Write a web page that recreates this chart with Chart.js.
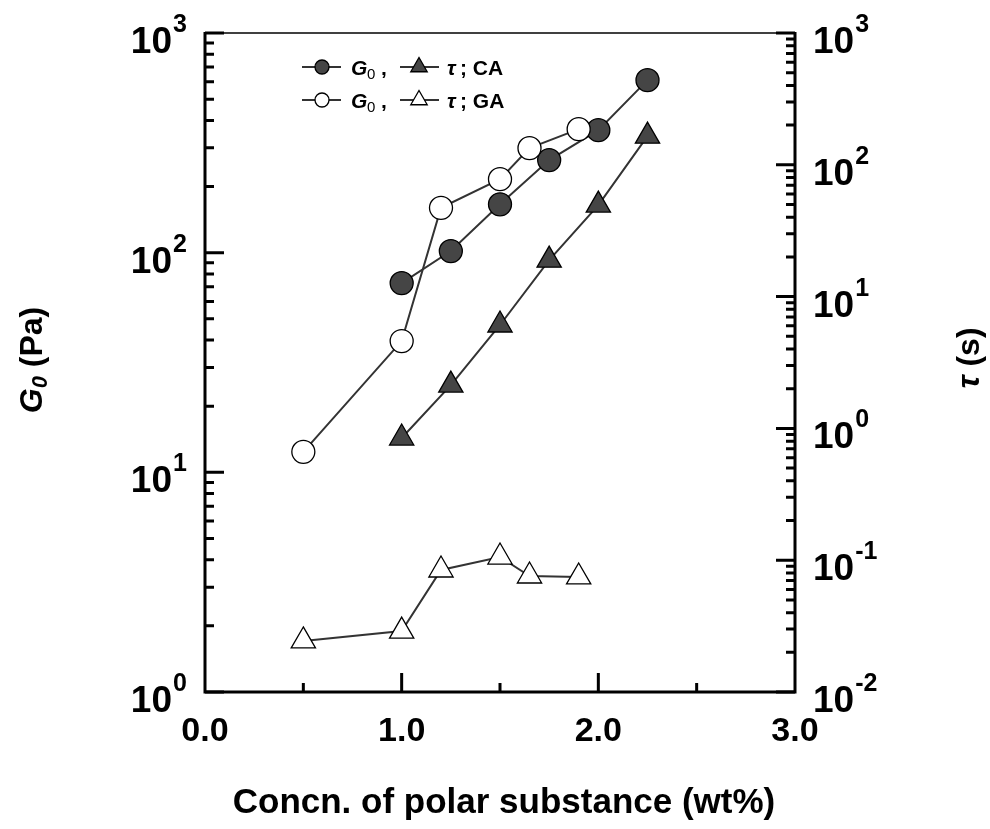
<!DOCTYPE html>
<html><head><meta charset="utf-8">
<script src="https://cdn.jsdelivr.net/npm/chart.js@4.4.0/dist/chart.umd.min.js"></script>
<style>html,body{margin:0;padding:0;background:#fff;} canvas{display:block;}</style>
</head><body>
<canvas id="c" width="990" height="829"></canvas>
<script>
// ---- data ----
const concCA = [1.0, 1.25, 1.5, 1.75, 2.0, 2.25];
const G0_CA  = [72.7, 101.7, 166, 264, 361, 610];
const tau_CA = [0.845, 2.13, 6.09, 18.9, 49.5, 165];
const concGA = [0.5, 1.0, 1.2, 1.5, 1.65, 1.9];
const G0_GA  = [12.4, 39.6, 160, 216, 299, 365];
const tau_GA = [0.0244, 0.029, 0.0843, 0.1057, 0.0759, 0.0746];
const xTickLabels = ['0.0', '1.0', '2.0', '3.0'];
const xTickValues = [0, 1, 2, 3];
const leftDecades = [0, 1, 2, 3];
const rightDecades = [-2, -1, 0, 1, 2, 3];
const xTitle = 'Concn. of polar substance (wt%)';

const pts = (xs, ys) => xs.map((x, i) => ({x: x, y: ys[i]}));
const FONT = '"Liberation Sans", Arial, sans-serif';
const LINE = '#333333';
const FILL = '#454545';

const axesPlugin = {
  id: 'axesPlugin',
  afterDraw(chart) {
    const ctx = chart.ctx;
    const xs = chart.scales.x, yl = chart.scales.y, yr = chart.scales.y2;
    const a = chart.chartArea;
    ctx.save();
    ctx.strokeStyle = '#000';
    ctx.lineCap = 'butt';
    ctx.lineWidth = 1.5;
    ctx.beginPath(); ctx.moveTo(a.left, a.top); ctx.lineTo(a.right, a.top); ctx.stroke();
    ctx.lineWidth = 3;
    ctx.beginPath();
    ctx.moveTo(a.left, a.top - 1); ctx.lineTo(a.left, a.bottom); ctx.lineTo(a.right, a.bottom); ctx.lineTo(a.right, a.top - 1);
    ctx.stroke();
    ctx.beginPath();
    for (let d = leftDecades[0]; d <= leftDecades[leftDecades.length - 1]; d++) {
      for (let m = 1; m <= 9; m++) {
        const v = m * Math.pow(10, d);
        if (v > yl.max * 1.0001) break;
        const p = yl.getPixelForValue(v);
        const len = m === 1 ? 19 : 9;
        ctx.moveTo(a.left, p); ctx.lineTo(a.left + len, p);
      }
    }
    for (let d = rightDecades[0]; d <= rightDecades[rightDecades.length - 1]; d++) {
      for (let m = 1; m <= 9; m++) {
        const v = m * Math.pow(10, d);
        if (v > yr.max * 1.0001) break;
        const p = yr.getPixelForValue(v);
        const len = m === 1 ? 19 : 9;
        ctx.moveTo(a.right, p); ctx.lineTo(a.right - len, p);
      }
    }
    [0.5, 1, 1.5, 2, 2.5].forEach(v => {
      const p = xs.getPixelForValue(v);
      const len = Number.isInteger(v) ? 19 : 9;
      ctx.moveTo(p, a.bottom); ctx.lineTo(p, a.bottom - len);
    });
    ctx.stroke();

    ctx.fillStyle = '#000';
    ctx.font = 'bold 34px ' + FONT;
    ctx.textAlign = 'center'; ctx.textBaseline = 'alphabetic';
    xTickValues.forEach((v, i) => {
      ctx.fillText(xTickLabels[i], xs.getPixelForValue(v), 741);
    });
    function pow(xpos, ypos, exp, side) {
      ctx.font = 'bold 37px ' + FONT;
      const w10 = ctx.measureText('10').width;
      let x0 = side === 'left' ? xpos - w10 : xpos;
      ctx.textAlign = 'left';
      ctx.font = 'bold 37px ' + FONT;
      ctx.fillText('10', x0, ypos + 20);
      ctx.font = 'bold 25px ' + FONT;
      ctx.fillText(String(exp), x0 + w10 + 1, ypos - 1);
    }
    leftDecades.forEach(d => pow(172, yl.getPixelForValue(Math.pow(10, d)), d, 'left'));
    rightDecades.forEach(d => pow(813, yr.getPixelForValue(Math.pow(10, d)), d, 'right'));

    ctx.font = 'bold 35px ' + FONT;
    ctx.textAlign = 'center';
    ctx.fillText(xTitle, (a.left + a.right) / 2 + 4, 813);

    ctx.save();
    ctx.translate(31, 360);
    ctx.rotate(-Math.PI / 2);
    ctx.textAlign = 'left';
    ctx.font = 'italic bold 32px ' + FONT; const wG = ctx.measureText('G').width;
    ctx.font = 'italic bold 22px ' + FONT; const w0 = ctx.measureText('0').width;
    ctx.font = 'bold 32px ' + FONT; const wP = ctx.measureText(' (Pa)').width;
    let sx = -(wG + w0 + wP) / 2;
    ctx.font = 'italic bold 32px ' + FONT; ctx.fillText('G', sx, 11); sx += wG;
    ctx.font = 'italic bold 22px ' + FONT; ctx.fillText('0', sx, 16); sx += w0;
    ctx.font = 'bold 32px ' + FONT; ctx.fillText(' (Pa)', sx, 11);
    ctx.restore();

    ctx.save();
    ctx.translate(968, 358);
    ctx.rotate(-Math.PI / 2);
    ctx.textAlign = 'left';
    ctx.font = 'italic bold 32px ' + FONT; const wt = ctx.measureText('τ').width;
    ctx.font = 'bold 32px ' + FONT; const ws = ctx.measureText(' (s)').width;
    let tx = -(wt + ws) / 2;
    ctx.font = 'italic bold 32px ' + FONT; ctx.fillText('τ', tx, 11); tx += wt;
    ctx.font = 'bold 32px ' + FONT; ctx.fillText(' (s)', tx, 11);
    ctx.restore();

    function legendRow(y, filled, label) {
      ctx.strokeStyle = LINE; ctx.lineWidth = 2;
      ctx.beginPath(); ctx.moveTo(302, y); ctx.lineTo(341, y); ctx.stroke();
      ctx.beginPath(); ctx.arc(322, y, 7, 0, Math.PI * 2);
      ctx.fillStyle = filled ? FILL : '#fff'; ctx.fill();
      ctx.strokeStyle = '#000'; ctx.lineWidth = 1.3; ctx.stroke();
      ctx.strokeStyle = LINE; ctx.lineWidth = 2;
      ctx.beginPath(); ctx.moveTo(400, y); ctx.lineTo(439, y); ctx.stroke();
      const r = 9.5;
      ctx.beginPath();
      ctx.moveTo(419, y - r);
      ctx.lineTo(419 + r * 0.866, y + r * 0.5);
      ctx.lineTo(419 - r * 0.866, y + r * 0.5);
      ctx.closePath();
      ctx.fillStyle = filled ? FILL : '#fff'; ctx.fill();
      ctx.strokeStyle = '#000'; ctx.lineWidth = 1.3; ctx.stroke();
      ctx.fillStyle = '#000';
      ctx.textAlign = 'left';
      ctx.font = 'italic bold 21px ' + FONT; ctx.fillText('G', 351, y + 8);
      ctx.font = '15px ' + FONT; ctx.fillText('0', 367, y + 12);
      ctx.font = 'bold 21px ' + FONT; ctx.fillText(',', 381, y + 8);
      ctx.font = 'italic bold 21px ' + FONT; ctx.fillText('τ', 447, y + 8);
      ctx.font = 'bold 21px ' + FONT; ctx.fillText('; ' + label, 460, y + 8);
    }
    legendRow(67, true, 'CA');
    legendRow(100, false, 'GA');
    ctx.restore();
  }
};

new Chart(document.getElementById('c'), {
  type: 'line',
  data: {
    datasets: [
      { label: 'τ GA', yAxisID: 'y2', data: pts(concGA, tau_GA), pointStyle: 'triangle', pointRadius: 14,
        backgroundColor: '#fff', pointBackgroundColor: '#fff', pointBorderColor: '#000', pointBorderWidth: 1.3,
        borderColor: LINE, borderWidth: 2, tension: 0 },
      { label: 'τ CA', yAxisID: 'y2', data: pts(concCA, tau_CA), pointStyle: 'triangle', pointRadius: 14,
        backgroundColor: FILL, pointBackgroundColor: FILL, pointBorderColor: '#000', pointBorderWidth: 1.3,
        borderColor: LINE, borderWidth: 2, tension: 0 },
      { label: 'G0 GA', yAxisID: 'y', data: pts(concGA, G0_GA), pointStyle: 'circle', pointRadius: 11.5,
        backgroundColor: '#fff', pointBackgroundColor: '#fff', pointBorderColor: '#000', pointBorderWidth: 1.3,
        borderColor: LINE, borderWidth: 2, tension: 0 },
      { label: 'G0 CA', yAxisID: 'y', data: pts(concCA, G0_CA), pointStyle: 'circle', pointRadius: 11.5,
        backgroundColor: FILL, pointBackgroundColor: FILL, pointBorderColor: '#000', pointBorderWidth: 1.3,
        borderColor: LINE, borderWidth: 2, tension: 0 }
    ]
  },
  options: {
    responsive: false,
    animation: false,
    devicePixelRatio: 1,
    layout: { padding: { left: 205, right: 195, top: 33, bottom: 137 } },
    plugins: { legend: { display: false }, tooltip: { enabled: false } },
    scales: {
      x: { type: 'linear', min: 0, max: 3, display: false },
      y: { type: 'logarithmic', min: 1, max: 1000, display: false, position: 'left' },
      y2: { type: 'logarithmic', min: 0.01, max: 1000, display: false, position: 'right' }
    }
  },
  plugins: [axesPlugin]
});
</script>
</body></html>
